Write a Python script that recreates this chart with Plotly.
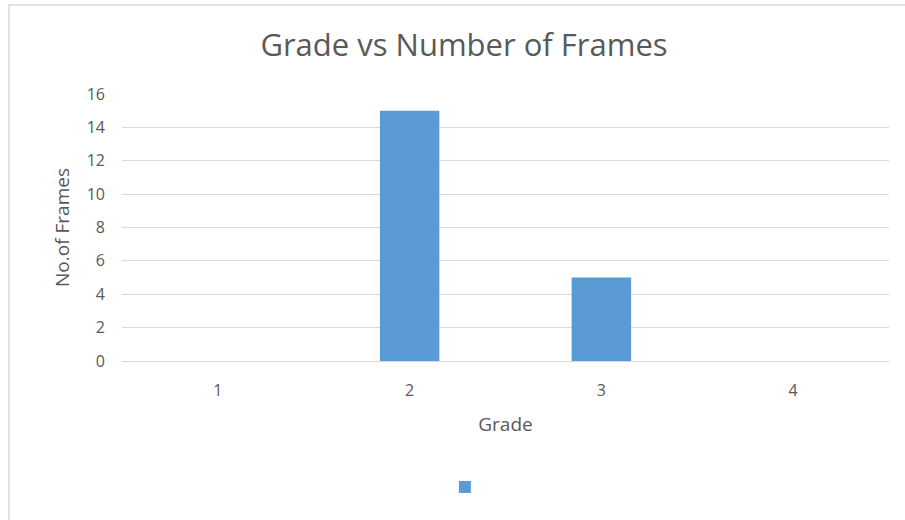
import plotly.graph_objects as go

grades = ["1", "2", "3", "4"]
frames = [0, 15, 5, 0]
y_ticks = [0, 2, 4, 6, 8, 10, 12, 14, 16]

W, H = 905, 520
L, R, T, B = 122, 16, 94, 159

fig = go.Figure()
fig.add_trace(go.Bar(
    x=grades, y=frames, name=" ",
    marker=dict(color="#5B9BD5", line=dict(width=0)),
    width=0.31, showlegend=True,
))

gray = "#595959"
font = "Open Sans"

fig.update_layout(
    width=W, height=H,
    margin=dict(l=L, r=R, t=T, b=B),
    paper_bgcolor="white", plot_bgcolor="white",
    font=dict(family=font, color=gray, size=16),
    title=dict(text="Grade vs Number of Frames", x=464 / W, xanchor="center",
               y=1 - 45 / H, yanchor="middle",
               font=dict(family=font, size=31, color=gray)),
    xaxis=dict(type="category", range=[-0.5, 3.5], showgrid=False,
               showline=True, linecolor="#D9D9D9", linewidth=1,
               ticks="", ticklabelstandoff=15,
               title=dict(text="Grade", standoff=17, font=dict(size=19, color=gray)),
               tickfont=dict(size=16, color=gray)),
    yaxis=dict(range=[0, 16], tickvals=y_ticks, showgrid=True,
               gridcolor="#D9D9D9", gridwidth=1, zeroline=False,
               showline=False, ticks="", ticklabelstandoff=16,
               title=dict(text="No.of Frames", standoff=12, font=dict(size=19, color=gray)),
               tickfont=dict(size=16, color=gray)),
    legend=dict(orientation="h", x=(463 - 25 - 57) / W, xanchor="left",
                xref="paper", yref="container",
                y=1 - 487 / H, yanchor="middle",
                font=dict(size=13), bgcolor="rgba(0,0,0,0)"),
    bargap=0.69,
)

fig.add_shape(type="rect", xref="paper", yref="paper",
              x0=(9 - L) / (W - L - R), x1=(W + 20 - L) / (W - L - R),
              y0=(H - B - (H + 20)) / (H - T - B), y1=(H - B - 5) / (H - T - B),
              line=dict(color="#D9D9D9", width=1.5), layer="below")

fig.write_html("out.html")
